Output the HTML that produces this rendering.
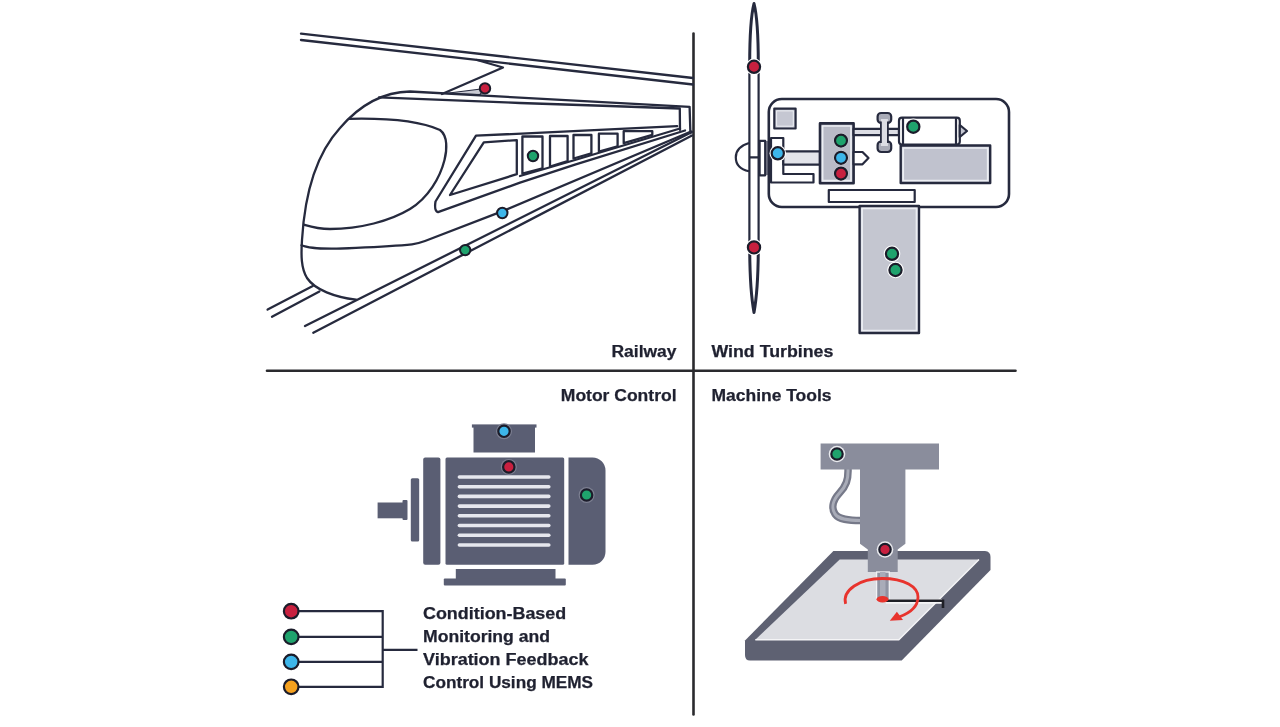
<!DOCTYPE html>
<html><head><meta charset="utf-8">
<style>
html,body{margin:0;padding:0;background:#fff;width:1280px;height:727px;overflow:hidden}
svg{display:block;filter:blur(0.4px)}
.t{font-family:"Liberation Sans",sans-serif;font-weight:bold;fill:#1f2130;stroke:#1f2130;stroke-width:0.25}
</style></head><body>
<svg width="1280" height="727" viewBox="0 0 1280 727">
<rect width="1280" height="727" fill="#fff"/>
<!-- grid -->
<g stroke="#2a2a2e" stroke-width="2.6" stroke-linecap="round">
<line x1="693.5" y1="33.5" x2="693.5" y2="714.5"/>
<line x1="267" y1="370.7" x2="1015.5" y2="370.7"/>
</g>

<!-- ===== TRAIN ===== -->
<g fill="none" stroke="#262a3e" stroke-width="2.3" stroke-linejoin="round" stroke-linecap="round">
<line x1="301" y1="33.6" x2="693" y2="78"/>
<line x1="301" y1="40" x2="693" y2="84.5"/>
<path d="M477,60 L503,67.5 L442,94" />
<path d="M445,93.5 L485,88.5 L480,94.5 Z" fill="#c9cad3" stroke-width="1.2"/>
<path d="M356,299.7 C335,297 315,290 307,278 C301,268 301,255 302,240 C305,190 318,152 340,128 C358,107 382,92 410,91.5 L689.6,106.9 L690.4,133.3"/>
<path d="M379,97.3 L520,103 L610,106 L679.8,108.5 L680,129.9"/>
<path d="M349.4,118.8 C385,118 420,121 440,130 C448,136 447,150 444.5,160 C440,178 428,198 410,209 C390,221 360,229 330,229 C318,229 310,226.5 304,224.7"/>
<path d="M301.6,245.3 C310,249 325,249.4 356,247.8 C385,246.5 400,245.5 412,244.3 Q418,243.6 425,241 L502,211.4 L691,131.5"/>
<path d="M677.2,126.2 L476,135.7 L435.5,201.5 Q434,211 438,212.2 L520,182.7 L575,164.7 L685,130.5"/>
<path d="M520,176 L575,160 L680,128.5"/>
<path d="M483.8,142.3 L516.8,140.1 L516.8,174.2 L450,195 Z"/>
<path d="M522.4,136.5 H542.5 V168.3 L522.4,173.6 Z"/>
<path d="M550,136 H567.6 V161 L550,166.5 Z"/>
<path d="M573.5,135 H591.4 V153.4 L573.5,158.5 Z"/>
<path d="M598.9,133.7 H617.6 V146.4 L598.9,151.6 Z"/>
<path d="M623.7,131.2 H652.3 V134.8 L623.7,143.1 Z"/>
<line x1="305" y1="326" x2="692" y2="132"/>
<line x1="313.3" y1="332.7" x2="692" y2="135.5"/>
<line x1="267.6" y1="309.6" x2="312.8" y2="285.9"/>
<line x1="272" y1="316.7" x2="319.4" y2="291.4"/>
</g>

<!-- ===== WIND TURBINE ===== -->
<g stroke="#262a3e" stroke-width="2.2" stroke-linejoin="round">
<path fill="none" d="M749.4,62 V250 M758.6,62 V250"/>
<path fill="#fff" stroke-width="3" d="M754,3.5 C750.8,16 749.7,36 749.7,64 L758.3,64 C758.3,36 757.2,16 754,3.5 Z"/>
<path fill="#fff" stroke-width="3" d="M749.7,246 C749.7,272 751,296 754,312.5 C757,296 758.3,272 758.3,246 Z"/>
<path fill="none" d="M749,143 C739,146 735.8,152 735.8,157.4 C735.8,163 739,169 749,171.2 M749,157.4 L759,157.4"/>
<rect x="764" y="141" width="5" height="34" fill="#8a8c9a" stroke="none"/>
<rect x="759.6" y="140.9" width="5.6" height="34.4" fill="#fff"/>
<rect x="768.8" y="99" width="240.2" height="108" rx="13" fill="#fff" stroke-width="2.6"/>
<rect x="774.3" y="108.6" width="21.3" height="19.9" fill="#c5c7d2"/>
<rect x="776.6" y="110.9" width="16.7" height="15.3" fill="none" stroke="#eceef3" stroke-width="1"/>
<path fill="#fff" d="M771,138 H783.3 V174 H813.5 V182.5 H771 Z"/>
<rect x="783.3" y="151.3" width="36.7" height="13.3" fill="#e3e4ea"/>
<rect x="820" y="123.4" width="33.6" height="59.8" fill="#b9bbc7" stroke-width="2.6"/>
<rect x="822.6" y="126" width="28.4" height="54.6" fill="none" stroke="#eceef3" stroke-width="1.7"/>
<rect x="853.6" y="128.8" width="45.4" height="6.4" fill="#dcdde4"/>
<rect x="877.6" y="113" width="13.6" height="10" rx="3.5" fill="#a9abb7"/>
<rect x="877.6" y="141.5" width="13.6" height="10.5" rx="3.5" fill="#a9abb7"/>
<rect x="880.9" y="119" width="7" height="27" fill="#dcdde4" stroke="none"/>
<path d="M880.9,121.5 V143 M887.9,121.5 V143" fill="none" stroke-width="1.8"/>
<path fill="#fff" d="M853.6,152 H862.5 L868.5,158 L862.5,164.3 H853.6 Z"/>
<rect x="899" y="117.7" width="60.8" height="26.9" rx="3" fill="#fff"/>
<path fill="none" d="M903,118 V144 M956,118 V144"/>
<path fill="#c5c7d2" d="M959.8,125 L967,131 L959.8,137 Z"/>
<rect x="900.7" y="145.5" width="89.5" height="37.5" fill="#c0c2ce" stroke-width="2.4"/>
<rect x="903.2" y="148" width="84.5" height="32.5" fill="none" stroke="#eceef3" stroke-width="1.7"/>
<rect x="828.8" y="190" width="85.9" height="12" fill="#fff"/>
<rect x="859.6" y="206" width="59.4" height="127" fill="#c4c6d0" stroke-width="2.4"/>
<rect x="862.1" y="208.5" width="54.4" height="122" fill="none" stroke="#eceef3" stroke-width="1.7"/>
</g>

<!-- ===== MOTOR ===== -->
<g fill="#5a5e73">
<rect x="377.6" y="502.5" width="27" height="15.8"/>
<rect x="402.5" y="500" width="5" height="20" rx="1"/>
<rect x="410.8" y="478.2" width="8.4" height="63.3" rx="1.5"/>
<rect x="423.2" y="457.5" width="17.2" height="107.2" rx="2"/>
<rect x="445.5" y="457.5" width="118.7" height="107.2" rx="1.5"/>
<path d="M568.5,457.5 H592.5 A13,13 0 0 1 605.5,470.5 V551.7 A13,13 0 0 1 592.5,564.7 H568.5 Z"/>
<rect x="471.9" y="424.4" width="64.6" height="3.2"/>
<rect x="473.5" y="426" width="61.5" height="26.5"/>
<rect x="455.8" y="569" width="99.7" height="10"/>
<rect x="443.8" y="578.5" width="122" height="7" rx="1"/>
</g>
<g fill="#e6e7ee">
<rect x="457.6" y="475.2" width="93" height="3.6" rx="1.8"/>
<rect x="457.6" y="485" width="93" height="3.6" rx="1.8"/>
<rect x="457.6" y="494.6" width="93" height="3.6" rx="1.8"/>
<rect x="457.6" y="504.3" width="93" height="3.6" rx="1.8"/>
<rect x="457.6" y="514" width="93" height="3.6" rx="1.8"/>
<rect x="457.6" y="523.7" width="93" height="3.6" rx="1.8"/>
<rect x="457.6" y="533.4" width="93" height="3.6" rx="1.8"/>
<rect x="457.6" y="543.2" width="93" height="3.6" rx="1.8"/>
</g>

<!-- ===== MACHINE TOOL ===== -->
<g>
<path d="M833.4,551.1 L985,551.1 Q990.5,551.5 990.5,557 L990.5,570 L901.7,660.5 L750,660.5 Q745,660.5 745,655 L745,640.5 Z" fill="#5e6172"/>
<path d="M839.7,559.5 L979,559.5 L898.8,639.7 L755.3,639.7 Z" fill="#dcdde2"/>
<path d="M755.3,639.7 L898.8,639.7 L979,559.5" fill="none" stroke="#f4f4f6" stroke-width="1.5"/>
<path d="M848,468 C848.5,480 846,486 839.5,493 C833,500 831,508 835,514 C839,519.5 848,520.5 861,520.5" fill="none" stroke="#767989" stroke-width="7.5"/>
<path d="M848,468 C848.5,480 846,486 839.5,493 C833,500 831,508 835,514 C839,519.5 848,520.5 861,520.5" fill="none" stroke="#a9acb8" stroke-width="3"/>
<rect x="820.6" y="443.5" width="118.4" height="26" fill="#8a8d9c"/>
<path d="M860,469 H905.4 V543.7 L897.7,549.5 V572 H867.8 V549.5 L860,543.7 Z" fill="#8a8d9c"/>
<rect x="876.6" y="572" width="12.7" height="27.6" fill="#8f93a2" stroke="#f2f2f5" stroke-width="1.3"/>
<rect x="880" y="572" width="5.5" height="27.6" fill="#a9acb9"/>
<path d="M886,601.5 H942" fill="none" stroke="#f4f4f6" stroke-width="4.5"/><path d="M886,600.7 H943 V608" fill="none" stroke="#1e1f26" stroke-width="2.6"/>
<path d="M845.6,603.8 C842,590 860,578.5 882,578.5 C905,578.5 918,587 918,597 C918,606 910,613 899,617" fill="none" stroke="#e8332d" stroke-width="2.8"/>
<path d="M889.8,620.8 L896.9,611.8 L903,620 Z" fill="#e8332d"/>
<ellipse cx="882.5" cy="599.2" rx="6" ry="3.2" fill="#e8332d"/>
</g>

<!-- ===== DOTS ===== -->
<g stroke="#1b1c2a" stroke-width="2">
<circle cx="485" cy="88.4" r="5.2" fill="#c8203f"/>
<circle cx="533" cy="156" r="5.2" fill="#1fa36d"/>
<circle cx="502.3" cy="213" r="5.2" fill="#3db6ea"/>
<circle cx="465.2" cy="250.1" r="5.2" fill="#1fa36d"/>
</g>
<g stroke="#1b1c2a" stroke-width="2.2">
<circle cx="754" cy="66.8" r="8.3" fill="#fff" stroke="none"/><circle cx="754" cy="66.8" r="6.1" fill="#c8203f"/>
<circle cx="754" cy="247.4" r="8.3" fill="#fff" stroke="none"/><circle cx="754" cy="247.4" r="6.1" fill="#c8203f"/>
<circle cx="777.8" cy="153.3" r="8.3" fill="#fff" stroke="none"/><circle cx="777.8" cy="153.3" r="6.1" fill="#3db6ea"/>
<circle cx="913.3" cy="126.7" r="8.3" fill="#fff" stroke="none"/><circle cx="913.3" cy="126.7" r="6.1" fill="#1fa36d"/>
<circle cx="892" cy="253.8" r="8.3" fill="#fff" stroke="none"/><circle cx="892" cy="253.8" r="6.1" fill="#1fa36d"/>
<circle cx="895.5" cy="270" r="8.3" fill="#fff" stroke="none"/><circle cx="895.5" cy="270" r="6.1" fill="#1fa36d"/>
<circle cx="841" cy="140.6" r="7.3" fill="#e8e9ee" stroke="none"/><circle cx="841" cy="140.6" r="6.0" fill="#1fa36d"/>
<circle cx="841" cy="157.8" r="7.3" fill="#e8e9ee" stroke="none"/><circle cx="841" cy="157.8" r="6.0" fill="#3db6ea"/>
<circle cx="841" cy="173.6" r="7.3" fill="#e8e9ee" stroke="none"/><circle cx="841" cy="173.6" r="6.0" fill="#c8203f"/>
<circle cx="504" cy="431.3" r="8.0" fill="#7c7f91" stroke="none"/><circle cx="504" cy="431.3" r="5.7" fill="#3db6ea"/>
<circle cx="508.8" cy="466.9" r="8.0" fill="#7c7f91" stroke="none"/><circle cx="508.8" cy="466.9" r="5.7" fill="#c8203f"/>
<circle cx="586.6" cy="495" r="8.0" fill="#7c7f91" stroke="none"/><circle cx="586.6" cy="495" r="5.7" fill="#1fa36d"/>
<circle cx="837" cy="454" r="8.3" fill="#e9eaee" stroke="none"/><circle cx="837" cy="454" r="5.7" fill="#1fa36d"/>
<circle cx="885" cy="549.5" r="8.3" fill="#e9eaee" stroke="none"/><circle cx="885" cy="549.5" r="5.7" fill="#c8203f"/>
</g>

<!-- ===== LEGEND ===== -->
<g fill="none" stroke="#262a3e" stroke-width="2.2">
<path d="M291,611.2 H382.7 V686.8 H291 M291,636.9 H382.7 M291,661.9 H382.7 M382.7,649.8 H417.5"/>
</g>
<g stroke="#1b1c2a" stroke-width="2.2">
<circle cx="291.2" cy="611.2" r="7.3" fill="#c8203f"/>
<circle cx="291.2" cy="636.9" r="7.3" fill="#1fa36d"/>
<circle cx="291.2" cy="661.9" r="7.3" fill="#3db6ea"/>
<circle cx="291.2" cy="686.8" r="7.3" fill="#f5a11f"/>
</g>

<!-- ===== TEXT ===== -->
<g class="t" font-size="16">
<text x="611.5" y="357.4" textLength="65" lengthAdjust="spacingAndGlyphs">Railway</text>
<text x="711.5" y="357.4" textLength="121.8" lengthAdjust="spacingAndGlyphs">Wind Turbines</text>
<text x="560.8" y="401.2" textLength="115.7" lengthAdjust="spacingAndGlyphs">Motor Control</text>
<text x="711.5" y="401.2" textLength="120" lengthAdjust="spacingAndGlyphs">Machine Tools</text>
<text x="423" y="619" textLength="143.2" lengthAdjust="spacingAndGlyphs">Condition-Based</text>
<text x="423" y="641.8" textLength="127" lengthAdjust="spacingAndGlyphs">Monitoring and</text>
<text x="423" y="664.5" textLength="165.5" lengthAdjust="spacingAndGlyphs">Vibration Feedback</text>
<text x="423" y="687.5" textLength="170" lengthAdjust="spacingAndGlyphs">Control Using MEMS</text>
</g>
</svg>
</body></html>
